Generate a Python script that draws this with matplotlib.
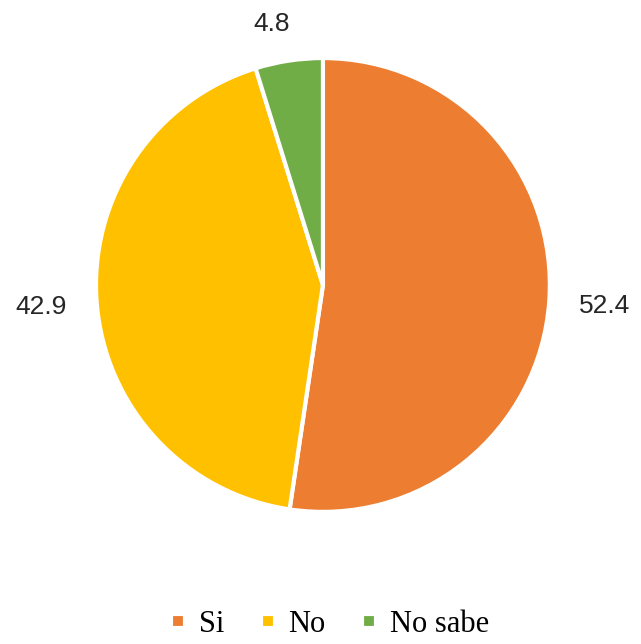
import matplotlib.pyplot as plt
import numpy as np

categories = ["Si", "No", "No sabe"]
values = [52.4, 42.9, 4.8]
colors = ["#ED7D31", "#FFC000", "#70AD47"]

fig = plt.figure(figsize=(6.41, 6.44), dpi=100)
ax = fig.add_axes([0.1498, 0.205, 0.708, 0.705])

total = sum(values)
wedges, texts, autotexts = ax.pie(
    values, labels=categories, colors=colors, startangle=90, counterclock=False,
    labeldistance=None, radius=1.0,
    autopct=lambda p: f"{p * total / 100:.1f}", pctdistance=1.2,
    wedgeprops=dict(edgecolor="white", linewidth=3),
    textprops=dict(fontsize=19, color="#262626", family="Liberation Sans"),
)

# Excel-style "outside end" labels: side labels sit further out than the top one
label_r = [1.245, 1.245, 1.17]
label_shift = [0, 0, 2.5]
for w, t, r, s in zip(wedges, autotexts, label_r, label_shift):
    ang = np.deg2rad((w.theta1 + w.theta2) / 2 + s)
    t.set_position((r * np.cos(ang), r * np.sin(ang)))
    t.set_va("center")

ax.set_xlim(-1, 1)
ax.set_ylim(-1, 1)
ax.set_aspect("equal")

leg = fig.legend(
    wedges, categories, loc="center", bbox_to_anchor=(0.515, 0.03), ncol=3,
    frameon=False, handlelength=0.45, handleheight=0.3, handletextpad=0.45,
    columnspacing=1.2, prop=dict(family="Liberation Serif", size=22),
)
for h in leg.legend_handles:
    h.set_height(h.get_width())

fig.savefig("out.png", dpi=100, facecolor="white")
